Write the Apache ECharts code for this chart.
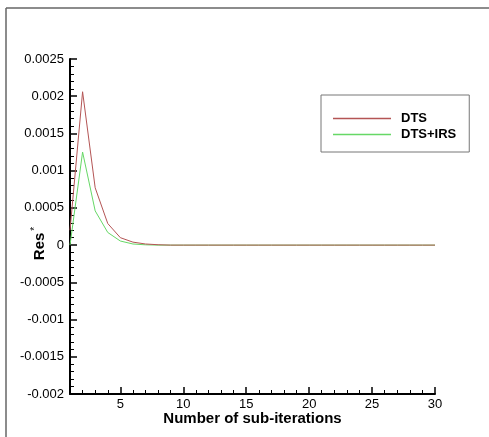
<!DOCTYPE html>
<html>
<head>
<meta charset="utf-8">
<script src="https://cdn.jsdelivr.net/npm/echarts@6/dist/echarts.min.js"></script>
<style>
html,body{margin:0;padding:0;background:#fff;}
#chart{width:489px;height:437px;}
</style>
</head>
<body>
<div id="chart"></div>
<script>
var iterations = [1,2,3,4,5,6,7,8,9,10,11,12,13,14,15,16,17,18,19,20,21,22,23,24,25,26,27,28,29,30];
var dts =    [0.0002, 0.00206, 0.00077, 0.00029, 0.0001, 0.00004, 0.000015, 0.000005, 0,0,0,0,0,0,0,0,0,0,0,0,0,0,0,0,0,0,0,0,0,0];
var dtsIrs = [0, 0.00125, 0.00046, 0.00017, 0.000055, 0.000015, 0.000004, 0, 0,0,0,0,0,0,0,0,0,0,0,0,0,0,0,0,0,0,0,0,0,0];
var xMajorTicks = [5,10,15,20,25,30];
var xMinorTicks = [2,3,4,6,7,8,9,11,12,13,14,16,17,18,19,21,22,23,24,26,27,28,29];
var seriesNames = ['DTS','DTS+IRS'];

function pairs(ys){ return iterations.map(function(x,i){ return [x, ys[i]]; }); }

var chart = echarts.init(document.getElementById('chart'), null, {renderer:'canvas'});
var font = 'Liberation Sans, Arial, sans-serif';
chart.setOption({
  animation:false,
  backgroundColor:'#fff',
  textStyle:{fontFamily:font},
  grid:{left:70,right:54,top:59,bottom:43,containLabel:false,outerBoundsMode:'none'},
  legend:{
    orient:'vertical', left:321, top:95,
    data:seriesNames,
    icon:'rect', itemWidth:58, itemHeight:1.5, itemGap:3,
    padding:[17,13,11,12],
    borderColor:'#777', borderWidth:1,
    textStyle:{fontFamily:font,fontWeight:'bold',fontSize:13,color:'#000',padding:[0,0,0,5]}
  },
  xAxis:[{
    type:'value', min:1, max:30,
    name:'Number of sub-iterations', nameLocation:'middle', nameGap:17, nameMoveOverlap:false,
    nameTextStyle:{fontFamily:font,fontWeight:'bold',fontSize:15,color:'#000'},
    axisLine:{show:true,onZero:false,lineStyle:{color:'#000',width:2}},
    axisTick:{show:true,inside:true,length:7,lineStyle:{color:'#000',width:1.5},customValues:xMajorTicks},
    axisLabel:{show:true,color:'#000',fontSize:13,fontFamily:font,margin:4,customValues:xMajorTicks},
    splitLine:{show:false}
  },{
    type:'value', min:1, max:30, position:'bottom', offset:0,
    axisLine:{show:false,onZero:false},
    axisTick:{show:true,inside:true,length:4,lineStyle:{color:'#000',width:1},customValues:xMinorTicks},
    axisLabel:{show:false},
    splitLine:{show:false}
  }],
  yAxis:{
    type:'value', min:-0.002, max:0.0025, interval:0.0005,
    name:'{b|Res}{s|*}', nameLocation:'middle', nameGap:20, nameRotate:90, nameMoveOverlap:false,
    nameTextStyle:{padding:[0,34,0,0],rich:{
      b:{fontFamily:font,fontWeight:'bold',fontSize:15,color:'#000'},
      s:{fontFamily:font,fontSize:10,color:'#000',padding:[0,0,10,2]}
    }},
    axisLine:{show:true,onZero:false,lineStyle:{color:'#000',width:2}},
    axisTick:{show:true,inside:true,length:7,lineStyle:{color:'#000',width:1.5}},
    minorTick:{show:true,splitNumber:5,length:4,lineStyle:{color:'#000',width:1}},
    axisLabel:{color:'#000',fontSize:13,fontFamily:font,margin:6,
      formatter:function(v){ return String(parseFloat(v.toFixed(6))); }},
    splitLine:{show:false}
  },
  series:[
    {name:'DTS+IRS',type:'line',xAxisIndex:0,data:pairs(dtsIrs),symbol:'none',color:'#66d866',lineStyle:{width:1,color:'#66d866'},z:2},
    {name:'DTS',type:'line',xAxisIndex:0,data:pairs(dts),symbol:'none',color:'#b45555',lineStyle:{width:1,color:'#b45555'},z:3}
  ],
  graphic:[
    {type:'line',shape:{x1:6,y1:8,x2:489,y2:8},style:{stroke:'#666',lineWidth:1.5}},
    {type:'line',shape:{x1:6,y1:8,x2:6,y2:437},style:{stroke:'#666',lineWidth:1.5}}
  ]
});
</script>
</body>
</html>
